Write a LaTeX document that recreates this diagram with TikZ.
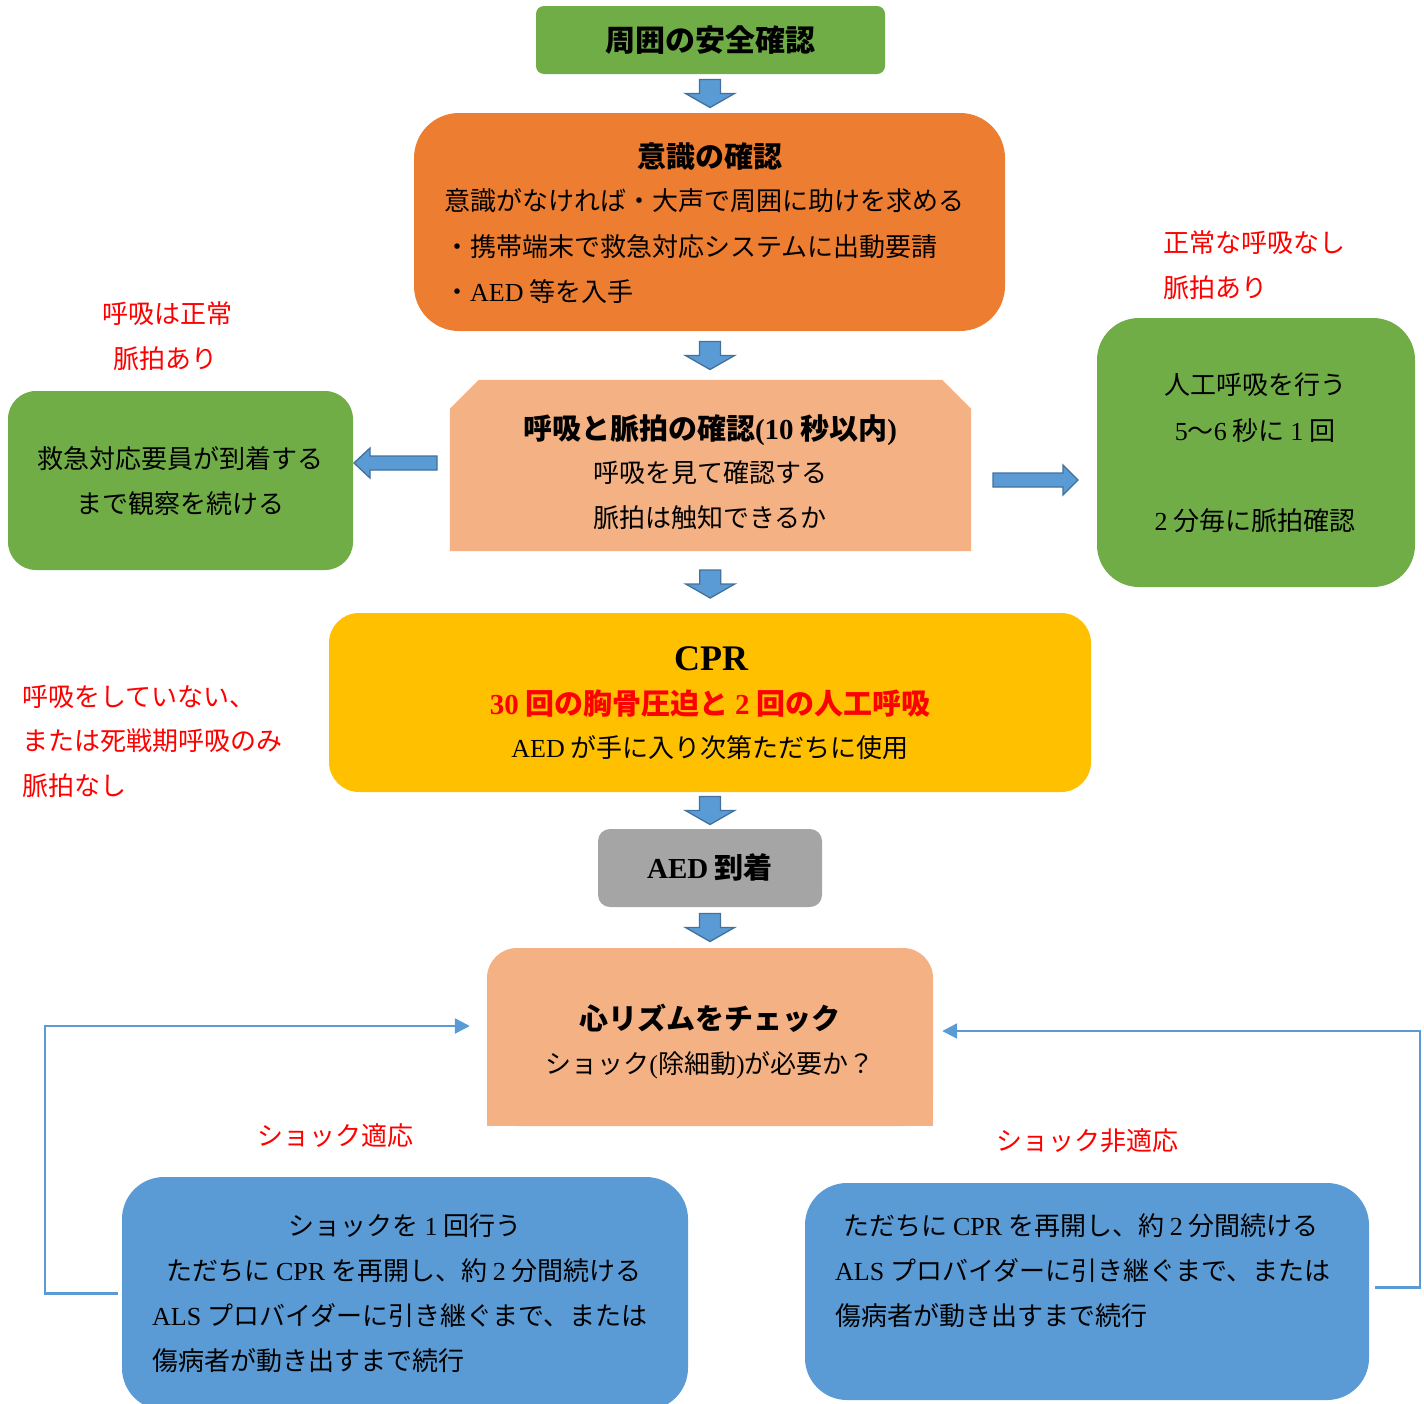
\documentclass[tikz,border=0pt]{standalone}
\usepackage{fontspec}
\newfontfamily\jp{Noto Sans CJK JP}
\newfontfamily\latf{Liberation Serif}
\usetikzlibrary{arrows.meta,calc}
\newcommand\lt[1]{{\latf #1}}
\definecolor{cgreen}{HTML}{70AD47}
\definecolor{corange}{HTML}{ED7D31}
\definecolor{cpeach}{HTML}{F4B183}
\definecolor{cyellow}{HTML}{FFC000}
\definecolor{cgray}{HTML}{A5A5A5}
\definecolor{cblue}{HTML}{5B9BD5}
\definecolor{cblued}{HTML}{41719C}
\definecolor{cred}{HTML}{FF0000}
\tikzset{
  bx/.style={rectangle, inner sep=0pt, draw=none},
  txt/.style={inner sep=0pt, text=black, font=\jp\fontsize{26}{30}\selectfont},
  ttl/.style={inner sep=0pt, text=black, font=\jp\bfseries\fontsize{29}{34}\selectfont},
  rtxt/.style={inner sep=0pt, text=cred, font=\jp\fontsize{26}{30}\selectfont},
  blk/.style={fill=cblue, draw=cblued, line width=1.3pt, line join=miter},
  loopline/.style={draw=cblue, line width=2.5pt, -{Triangle[length=15pt,width=15pt]}},
  downblk/.pic={\path[blk] (-10.5,-14) -- (10.5,-14) -- (10.5,0) -- (24.5,0) -- (0,14) -- (-24.5,0) -- (-10.5,0) -- cycle;},
  leftblk/.pic={\path[blk] (0,0) -- (16,-15) -- (16,-7) -- (83,-7) -- (83,7) -- (16,7) -- (16,15) -- cycle;},
  rightblk/.pic={\path[blk] (0,0) -- (-15,-15) -- (-15,-7) -- (-85,-7) -- (-85,7) -- (-15,7) -- (-15,15) -- cycle;},
}
\begin{document}
\begin{tikzpicture}[x=1pt,y=-1pt]
\useasboundingbox (0,0) rectangle (1424,1403);
\clip (0,0) rectangle (1424,1403);

% ---------- boxes ----------
\node[bx, fill=cgreen, rounded corners=8pt, minimum width=349pt, minimum height=68pt] (safety) at (710.5,40) {};
\node[bx, fill=corange, rounded corners=45pt, minimum width=591pt, minimum height=218pt] (conscious) at (709.5,222) {};
\node[bx, minimum width=521pt, minimum height=171pt] (breath) at (710.5,465.5) {};
\fill[cpeach] (breath.south west) -- ($(breath.north west)+(0,29)$) -- ($(breath.north west)+(29,0)$)
  -- ($(breath.north east)+(-29,0)$) -- ($(breath.north east)+(0,29)$) -- (breath.south east) -- cycle;
\node[bx, fill=cgreen, rounded corners=28pt, minimum width=345pt, minimum height=179pt] (observe) at (180.5,480.5) {};
\node[bx, fill=cgreen, rounded corners=42pt, minimum width=318pt, minimum height=269pt] (rescue) at (1256,452.5) {};
\node[bx, fill=cyellow, rounded corners=30pt, minimum width=762pt, minimum height=179pt] (cpr) at (710,702.5) {};
\node[bx, fill=cgray, rounded corners=12pt, minimum width=224pt, minimum height=78pt] (aed) at (710,868) {};
\node[bx, fill=cpeach, rounded corners=30pt, minimum width=446pt, minimum height=178pt] (rhythm) at (710,1037) {};
\fill[cpeach] (rhythm.west) rectangle (rhythm.south east);
\node[bx, fill=cblue, rounded corners=42pt, minimum width=566pt, minimum height=233pt] (shock) at (405,1293.5) {};
\node[bx, fill=cblue, rounded corners=42pt, minimum width=564pt, minimum height=217pt] (noshock) at (1087,1291.5) {};

% ---------- block arrows ----------
\pic at ($(safety.south)!0.5!(conscious.north)$) {downblk};
\pic at ($(conscious.south)!0.5!(breath.north)$) {downblk};
\pic at ($(breath.south)!0.5!(cpr.north)+(0,2)$) {downblk};
\pic at ($(cpr.south)!0.5!(aed.north)$) {downblk};
\pic at ($(aed.south)!0.5!(rhythm.north)$) {downblk};
\pic at (354,463) {leftblk};
\pic at (1078,480) {rightblk};

% ---------- loop connectors ----------
\draw[loopline] ([xshift=-4pt]shock.west) -- (45,1293.5) |- ([shift={(-17,-11)}]rhythm.west);
\draw[loopline] ([shift={(6,-4)}]noshock.east) -- (1420,1287.5) |- ([shift={(9,-6)}]rhythm.east);

% ---------- texts ----------
\node[ttl, anchor=base, font=\jp\bfseries\fontsize{30}{34}\selectfont] (t0) at (710,51) {周囲の安全確認};

\node[ttl, anchor=base] (t1) at (710,167) {意識の確認};
\node[txt, anchor=base west] (t2) at (444,210) {意識がなければ・大声で周囲に助けを求める};
\node[txt, anchor=base west] (t3) at (444,256) {・携帯端末で救急対応システムに出動要請};
\node[txt, anchor=base west] (t4) at (444,301) {・\lt{AED} 等を入手};

\node[ttl, anchor=base] (t5) at (710,439) {呼吸と脈拍の確認\lt{(10} 秒以内\lt{)}};
\node[txt, anchor=base] (t6) at (710,482) {呼吸を見て確認する};
\node[txt, anchor=base] (t7) at (710,527) {脈拍は触知できるか};

\node[txt, anchor=base] (t8) at (180,468) {救急対応要員が到着する};
\node[txt, anchor=base] (t9) at (180,513) {まで観察を続ける};
\node[rtxt, anchor=base] (r1) at (167,323) {呼吸は正常};
\node[rtxt, anchor=base] (r2) at (165,368) {脈拍あり};

\node[rtxt, anchor=base west] (r3) at (1163,252) {正常な呼吸なし};
\node[rtxt, anchor=base west] (r4) at (1163,297) {脈拍あり};
\node[txt, anchor=base] (t10) at (1255,394) {人工呼吸を行う};
\node[txt, anchor=base] (t11) at (1255,440) {\lt{5}～\lt{6} 秒に \lt{1} 回};
\node[txt, anchor=base] (t12) at (1255,530) {\lt{2} 分毎に脈拍確認};

\node[ttl, anchor=base, font=\latf\bfseries\fontsize{36}{40}\selectfont] (t13) at (711,670) {CPR};
\node[ttl, anchor=base, text=cred] (t14) at (710,714) {\lt{30} 回の胸骨圧迫と \lt{2} 回の人工呼吸};
\node[txt, anchor=base] (t15) at (710,757) {\lt{AED} が手に入り次第ただちに使用};

\node[rtxt, anchor=base west] (r5) at (22,706) {呼吸をしていない、};
\node[rtxt, anchor=base west] (r6) at (22,750) {または死戦期呼吸のみ};
\node[rtxt, anchor=base west] (r7) at (22,795) {脈拍なし};

\node[ttl, anchor=base] (t16) at (710,878) {\lt{AED} 到着};

\node[ttl, anchor=base] (t17) at (710,1029) {心リズムをチェック};
\node[txt, anchor=base] (t18) at (710,1073) {ショック\lt{(}除細動\lt{)}が必要か？};

\node[rtxt, anchor=base] (r8) at (335,1145) {ショック適応};
\node[rtxt, anchor=base] (r9) at (1087,1150) {ショック非適応};

\node[txt, anchor=base] (t19) at (405,1235) {ショックを \lt{1} 回行う};
\node[txt, anchor=base] (t20) at (404,1280) {ただちに \lt{CPR} を再開し、約 \lt{2} 分間続ける};
\node[txt, anchor=base west] (t21) at (152,1325) {\lt{ALS} プロバイダーに引き継ぐまで、または};
\node[txt, anchor=base west] (t22) at (152,1370) {傷病者が動き出すまで続行};

\node[txt, anchor=base west] (t23) at (843,1235) {ただちに \lt{CPR} を再開し、約 \lt{2} 分間続ける};
\node[txt, anchor=base west] (t24) at (835,1280) {\lt{ALS} プロバイダーに引き継ぐまで、または};
\node[txt, anchor=base west] (t25) at (835,1325) {傷病者が動き出すまで続行};
\end{tikzpicture}
\end{document}
